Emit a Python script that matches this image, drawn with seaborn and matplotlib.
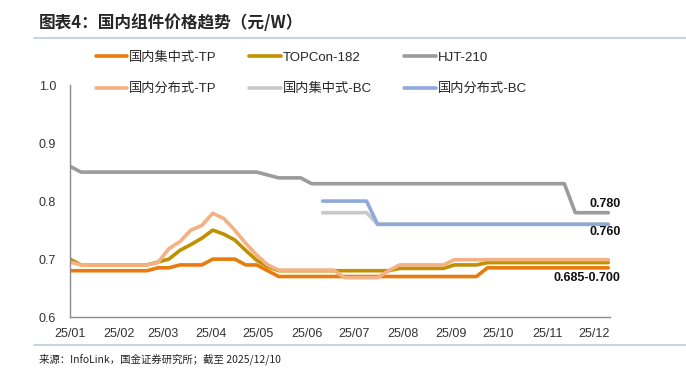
import numpy as np
import pandas as pd
import matplotlib
matplotlib.use("Agg")
import matplotlib.pyplot as plt
import matplotlib.dates as mdates
import seaborn as sns

# weekly InfoLink quotes, 2025-01-01 .. 2025-12-10
dates = pd.date_range("2025-01-01", "2025-12-10", freq="7D")
nan = np.nan

central_tp = [0.68, 0.68, 0.68, 0.68, 0.68, 0.68, 0.68, 0.68, 0.685, 0.685,
              0.69, 0.69, 0.69, 0.70, 0.70, 0.70, 0.69, 0.69, 0.68, 0.67,
              0.67, 0.67, 0.67, 0.67, 0.67, 0.67, 0.67, 0.67, 0.67, 0.67,
              0.67, 0.67, 0.67, 0.67, 0.67, 0.67, 0.67, 0.67, 0.685, 0.685,
              0.685, 0.685, 0.685, 0.685, 0.685, 0.685, 0.685, 0.685, 0.685, 0.685]
topcon_182 = [0.70, 0.69, 0.69, 0.69, 0.69, 0.69, 0.69, 0.69, 0.695, 0.70,
              0.715, 0.725, 0.736, 0.75, 0.743, 0.733, 0.715, 0.698, 0.687, 0.68,
              0.68, 0.68, 0.68, 0.68, 0.68, 0.68, 0.68, 0.68, 0.68, 0.68,
              0.684, 0.684, 0.684, 0.684, 0.684, 0.69, 0.69, 0.69, 0.694, 0.694,
              0.694, 0.694, 0.694, 0.694, 0.694, 0.694, 0.694, 0.694, 0.694, 0.694]
hjt_210 = [0.86, 0.85, 0.85, 0.85, 0.85, 0.85, 0.85, 0.85, 0.85, 0.85,
           0.85, 0.85, 0.85, 0.85, 0.85, 0.85, 0.85, 0.85, 0.845, 0.84,
           0.84, 0.84, 0.83, 0.83, 0.83, 0.83, 0.83, 0.83, 0.83, 0.83,
           0.83, 0.83, 0.83, 0.83, 0.83, 0.83, 0.83, 0.83, 0.83, 0.83,
           0.83, 0.83, 0.83, 0.83, 0.83, 0.83, 0.78, 0.78, 0.78, 0.78]
dist_tp = [0.695, 0.69, 0.69, 0.69, 0.69, 0.69, 0.69, 0.69, 0.694, 0.718,
           0.73, 0.75, 0.758, 0.779, 0.77, 0.75, 0.727, 0.707, 0.69, 0.681,
           0.681, 0.681, 0.681, 0.681, 0.681, 0.668, 0.668, 0.668, 0.668, 0.68,
           0.69, 0.69, 0.69, 0.69, 0.69, 0.699, 0.699, 0.699, 0.699, 0.699,
           0.699, 0.699, 0.699, 0.699, 0.699, 0.699, 0.699, 0.699, 0.699, 0.699]
central_bc = [nan] * 23 + [0.78, 0.78, 0.78, 0.78, 0.78] + [0.76] * 22
dist_bc = [nan] * 23 + [0.80, 0.80, 0.80, 0.80, 0.80] + [0.76] * 22

series_names = ["国内集中式-TP", "TOPCon-182", "HJT-210",
                "国内分布式-TP", "国内集中式-BC", "国内分布式-BC"]
series_values = [central_tp, topcon_182, hjt_210, dist_tp, central_bc, dist_bc]
colors = ["#E97B0E", "#BF9000", "#9B9B9B", "#F4B183", "#C9C9C9", "#8FA9DA"]

df = pd.DataFrame({"date": dates})
for name, vals in zip(series_names, series_values):
    df[name] = vals
long = df.melt(id_vars="date", var_name="series", value_name="price").dropna()

sns.set_style("white")
plt.rcParams["font.family"] = ["Liberation Sans", "Noto Sans CJK SC", "DejaVu Sans"]

fig = plt.figure(figsize=(6.86, 3.78), dpi=100)
ax = fig.add_axes([0.102, 0.161, 0.787, 0.614])

sns.lineplot(data=long, x="date", y="price", hue="series", hue_order=series_names,
             palette=dict(zip(series_names, colors)), linewidth=2.6, ax=ax,
             estimator=None)

ax.set_xlim(pd.Timestamp("2025-01-01"), pd.Timestamp("2025-12-11"))
ax.set_ylim(0.6, 1.0)
ax.set_yticks([0.6, 0.7, 0.8, 0.9, 1.0])
ax.yaxis.set_major_formatter(plt.FuncFormatter(lambda v, p: f"{v:.1f}"))
ax.xaxis.set_major_locator(mdates.MonthLocator())
ax.xaxis.set_major_formatter(mdates.DateFormatter("%y/%m"))
ax.set_xlabel("")
ax.set_ylabel("")
for s in ["top", "right"]:
    ax.spines[s].set_visible(False)
for s in ["left", "bottom"]:
    ax.spines[s].set_color("#8C8C8C")
    ax.spines[s].set_linewidth(1.0)
ax.tick_params(axis="both", which="major", direction="out", length=4,
               color="#8C8C8C", labelsize=9, labelcolor="#333333")
ax.tick_params(axis="y", pad=6)

# legend filled row by row (matplotlib fills columns first)
handles, labels = ax.get_legend_handles_labels()
ax.get_legend().remove()
order = [0, 3, 1, 4, 2, 5]
fig.legend([handles[i] for i in order], [labels[i] for i in order], ncol=3,
           frameon=False, loc="upper left", bbox_to_anchor=(0.122, 0.895),
           fontsize=9.5, handlelength=2.4, handletextpad=0.15,
           columnspacing=2.45, labelspacing=1.45)

ax.text(pd.Timestamp("2025-12-18"), 0.795, "0.780", ha="right", va="center",
        fontsize=9, fontweight="bold", color="#111111")
ax.text(pd.Timestamp("2025-12-18"), 0.747, "0.760", ha="right", va="center",
        fontsize=9, fontweight="bold", color="#111111")
ax.text(pd.Timestamp("2025-12-18"), 0.668, "0.685-0.700", ha="right", va="center",
        fontsize=9, fontweight="bold", color="#111111")

fig.text(0.057, 0.94, "图表4：国内组件价格趋势（元/W）", fontsize=12, fontweight="bold",
         style="italic", family=["Noto Sans CJK SC"], ha="left", va="center")
fig.add_artist(plt.Line2D([0.05, 1.0], [0.90, 0.90], color="#B8CCE0", lw=1.2))
fig.add_artist(plt.Line2D([0.05, 1.0], [0.087, 0.087], color="#B8CCE0", lw=1.2))
fig.text(0.057, 0.05, "来源：InfoLink，国金证券研究所；截至 2025/12/10", fontsize=7.5,
         family=["Noto Sans CJK SC"], ha="left", va="center", color="#222222")

fig.savefig("out.png", dpi=100)
